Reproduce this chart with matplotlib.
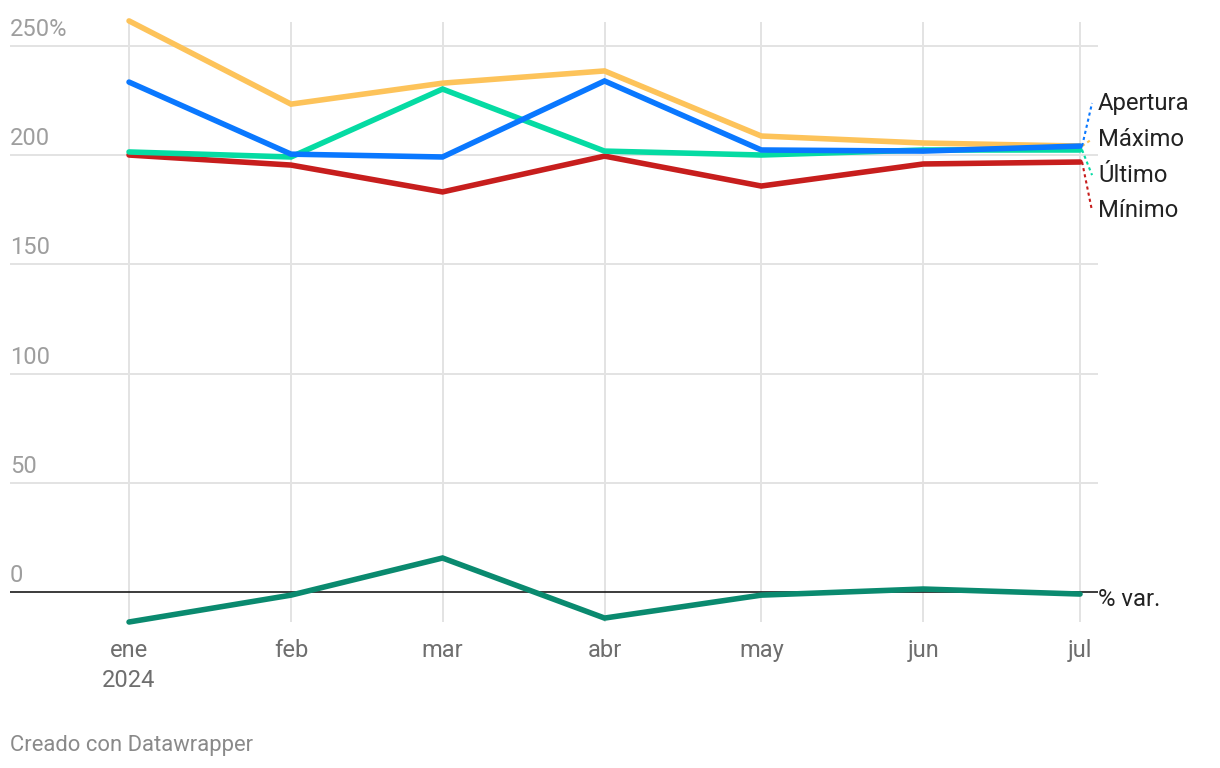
import matplotlib
matplotlib.use("Agg")
import matplotlib.pyplot as plt
import matplotlib.transforms as mtransforms
import matplotlib.dates as mdates
from datetime import datetime

plt.rcParams['font.family'] = ['Roboto', 'DejaVu Sans']

dates = [datetime(2024, m, 1) for m in range(1, 8)]
months = ["ene", "feb", "mar", "abr", "may", "jun", "jul"]
apertura = [233.5, 200.5, 199.2, 234.0, 202.4, 201.9, 204.2]
maximo = [261.5, 223.4, 233.0, 238.6, 208.8, 205.6, 204.2]
ultimo = [201.5, 199.2, 230.3, 201.9, 200.1, 202.4, 202.4]
minimo = [200.1, 195.5, 183.2, 199.6, 185.9, 196.0, 196.9]
var_pct = [-13.7, -1.4, 15.6, -11.9, -1.4, 1.4, -0.9]
y_ticks = [0, 50, 100, 150, 200, 250]
y_labels = ["0", "50", "100", "150", "200", "250%"]

W, H = 1220, 768
fig = plt.figure(figsize=(W / 100, H / 100), dpi=100)
# axes box in pixels: x 10..1098, y 22..622 (from top)
ax = fig.add_axes([10 / W, (H - 622) / H, 1088 / W, 600 / H])
x = mdates.date2num(dates)
x_left = x[0] - 22.78
x_right = x[-1] + 3.44
ax.set_xlim(x_left, x_right)
ax.set_ylim(-13.7, 261.0)
ax.axis("off")

grid_c = "#e3e3e3"
for v in y_ticks[1:]:
    ax.axhline(v, color=grid_c, lw=1.4, zorder=0)
for xi in x:
    ax.axvline(xi, color=grid_c, lw=1.4, zorder=0)
ax.axhline(0, color="#1a1a1a", lw=1.2, zorder=1)

# y tick labels sit above the gridlines
for v, lab in zip(y_ticks, y_labels):
    ax.text(x_left, v + 4.6, lab, fontsize=17, color="#9e9e9e",
            ha="left", va="baseline")

# x labels
trans = mtransforms.blended_transform_factory(ax.transData, ax.transAxes)
for xi, m in zip(x, months):
    ax.text(xi, -0.047, m, transform=trans, fontsize=17, color="#6e6e6e",
            ha="center", va="center")
ax.text(x[0], -0.097, "2024", transform=trans, fontsize=17, color="#6e6e6e",
        ha="center", va="center")

# leader lines from line ends to the labels (in days)
lead0 = x[-1] + 0.4
lead1 = x[-1] + 2.3
series = [
    (maximo, "#fdc35a", "Máximo", 207.4, 2),
    (minimo, "#c71e1d", "Mínimo", 174.5, 3),
    (ultimo, "#05dba3", "Último", 190.9, 4),
    (apertura, "#0a78ff", "Apertura", 223.9, 5),
    (var_pct, "#0a8a6f", "% var.", -3.2, 4),
]
for vals, col, name, ly, z in series:
    ax.plot(x, vals, color=col, lw=4.0, solid_capstyle="round",
            solid_joinstyle="miter", zorder=z, clip_on=False)
    if name != "% var.":
        ax.plot([lead0, lead1], [vals[-1], ly], color=col, lw=1.5,
                ls=(0, (1.5, 1.5)), zorder=z, clip_on=False)
    ax.text(x_right, ly, name, fontsize=17.2, color="#222222",
            ha="left", va="center", clip_on=False)

fig.text(10 / W, 1 - 745 / H, "Creado con Datawrapper", fontsize=15.8,
         color="#8a8a8a", ha="left", va="center")

fig.savefig("out.png", dpi=100)
